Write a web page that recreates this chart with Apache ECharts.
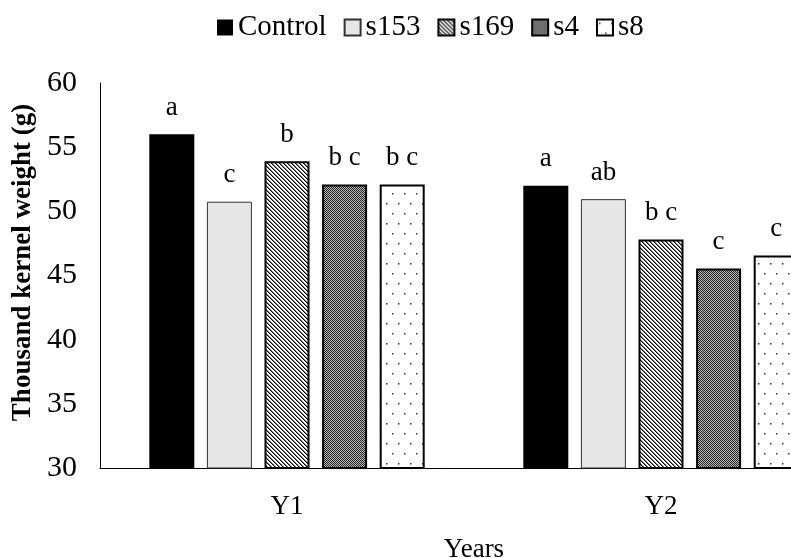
<!DOCTYPE html>
<html>
<head>
<meta charset="utf-8">
<script src="https://cdn.jsdelivr.net/npm/echarts@6/dist/echarts.min.js"></script>
<style>
html,body{margin:0;padding:0;background:#fff;overflow:hidden;}
#chart{width:791px;height:558px;}
</style>
</head>
<body>
<div id="chart"></div>
<script>
// ---- data ----
const categories = ['Y1', 'Y2'];
const seriesNames = ['Control', 's153', 's169', 's4', 's8'];
const controlValues = [56.0, 52.0];
const s153Values = [50.75, 50.95];
const s169Values = [53.9, 47.8];
const s4Values = [52.1, 45.55];
const s8Values = [52.1, 46.55];
const controlLetters = ['a', 'a'];
const s153Letters = ['c', 'ab'];
const s169Letters = ['b', 'b c'];
const s4Letters = ['b c', 'c'];
const s8Letters = ['b c', 'c'];
const yTicks = [30, 35, 40, 45, 50, 55, 60];

// ---- patterns ----
function makeCanvas(w, h, draw) {
  const c = document.createElement('canvas');
  c.width = w; c.height = h;
  const ctx = c.getContext('2d');
  draw(ctx, w, h);
  return c;
}
const hatch = makeCanvas(4, 4, (ctx) => {
  ctx.fillStyle = '#fff'; ctx.fillRect(0, 0, 4, 4);
  for (let i = 0; i < 4; i++) {
    ctx.fillStyle = '#000'; ctx.fillRect(i, i, 1, 1);
    ctx.fillStyle = '#777'; ctx.fillRect((i + 1) % 4, i, 1, 1);
  }
});
const checker = makeCanvas(2, 2, (ctx) => {
  ctx.fillStyle = '#bbb'; ctx.fillRect(0, 0, 2, 2);
  ctx.fillStyle = '#222'; ctx.fillRect(0, 0, 1, 1); ctx.fillRect(1, 1, 1, 1);
});
const dots = makeCanvas(12, 20, (ctx) => {
  ctx.fillStyle = '#fff'; ctx.fillRect(0, 0, 12, 20);
  ctx.fillStyle = '#333';
  ctx.fillRect(2, 3, 1.5, 1.5);
  ctx.fillRect(8, 13, 1.5, 1.5);
});

const FONT = '"Liberation Serif", "Times New Roman", serif';

function barSeries(name, values, letters, itemStyle) {
  return {
    name: name,
    type: 'bar',
    data: values,
    barWidth: 45,
    barGap: '28%',
    itemStyle: itemStyle,
    label: {
      show: true,
      position: 'top',
      distance: 13,
      fontFamily: FONT,
      fontSize: 27,
      color: '#000',
      formatter: (p) => letters[p.dataIndex]
    }
  };
}

const chart = echarts.init(document.getElementById('chart'), null, {renderer: 'canvas'});
chart.setOption({
  animation: false,
  backgroundColor: '#fff',
  legend: {
    left: 212,
    top: 8,
    itemWidth: 16,
    itemHeight: 16,
    itemGap: 17,
    icon: 'rect',
    textStyle: {fontFamily: FONT, fontSize: 29, color: '#000'},
    data: seriesNames
  },
  grid: {left: 100, top: 83, width: 748, height: 385, containLabel: false, outerBoundsMode: 'none'},
  xAxis: {
    type: 'category',
    data: categories,
    name: 'Years',
    nameLocation: 'middle',
    nameGap: 68,
    nameTextStyle: {fontFamily: FONT, fontSize: 27, color: '#000'},
    axisLine: {lineStyle: {color: '#000', width: 1}},
    axisTick: {show: false},
    axisLabel: {fontFamily: FONT, fontSize: 27, color: '#000', margin: 25}
  },
  yAxis: {
    type: 'value',
    min: yTicks[0],
    max: yTicks[yTicks.length - 1],
    interval: 5,
    name: 'Thousand kernel weight (g)',
    nameLocation: 'middle',
    nameGap: 60,
    nameTextStyle: {fontFamily: FONT, fontSize: 27, fontWeight: 'bold', color: '#000', padding: [0, 0, 0, 26]},
    splitLine: {show: false},
    axisLine: {show: true, lineStyle: {color: '#000', width: 1}},
    axisTick: {show: false},
    axisLabel: {fontFamily: FONT, fontSize: 30, color: '#000', margin: 23}
  },
  series: [
    barSeries('Control', controlValues, controlLetters, {color: '#000'}),
    barSeries('s153', s153Values, s153Letters, {color: '#e6e6e6', borderColor: '#333', borderWidth: 1}),
    barSeries('s169', s169Values, s169Letters, {color: {image: hatch, repeat: 'repeat'}, borderColor: '#000', borderWidth: 2}),
    barSeries('s4', s4Values, s4Letters, {color: {image: checker, repeat: 'repeat'}, borderColor: '#000', borderWidth: 2}),
    barSeries('s8', s8Values, s8Letters, {color: {image: dots, repeat: 'repeat'}, borderColor: '#000', borderWidth: 2})
  ]
});
</script>
</body>
</html>
